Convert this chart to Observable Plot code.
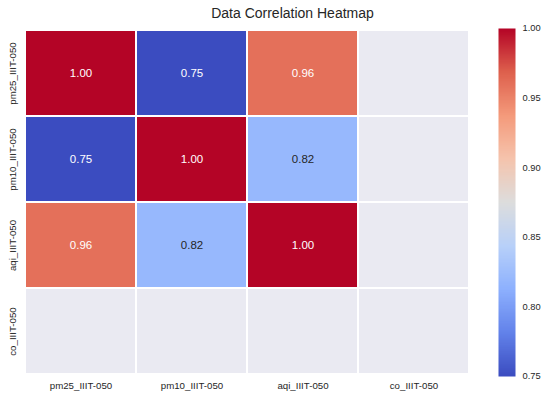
<!DOCTYPE html>
<html><head><meta charset="utf-8">
<script src="https://cdn.jsdelivr.net/npm/d3@7"></script>
<script src="https://cdn.jsdelivr.net/npm/@observablehq/plot@0.6"></script>
<style>
body{margin:0;background:#fff;}
#wrap{position:relative;width:548px;height:399px;font-family:"Liberation Sans",Arial,sans-serif;overflow:hidden;}
#wrap svg{position:absolute;left:0;top:0;}
#title{position:absolute;left:292.5px;top:6px;transform:translateX(-50%);white-space:nowrap;font-size:14px;line-height:14px;color:#262626;z-index:2;}
</style></head><body>
<div id="wrap"><div id="title">Data Correlation Heatmap</div></div>
<script>
const variables = ["pm25_IIIT-050", "pm10_IIIT-050", "aqi_IIIT-050", "co_IIIT-050"];
const correlations = [
  [1.00, 0.75, 0.96, null],
  [0.75, 1.00, 0.82, null],
  [0.96, 0.82, 1.00, null],
  [null, null, null, null]
];
const colorDomain = [0.75, 1.00];
const colorbarTicks = [0.75, 0.80, 0.85, 0.90, 0.95, 1.00];
const coolwarmStops = ["#3B4CC0", "#6282EA", "#8DB0FE", "#B8D0F9", "#DDDDDD", "#F5C4AD", "#F49A7B", "#DE604D", "#B40426"];

const coolwarm = d3.piecewise(d3.interpolateRgb, coolwarmStops);
const colorScale = {type: "linear", domain: colorDomain, interpolate: coolwarm, clamp: true};

const cells = [];
variables.forEach((r, i) => variables.forEach((c, j) => cells.push({row: r, col: c, value: correlations[i][j]})));
const valued = cells.filter(d => d.value != null);
function lum(v) {
  const c = d3.rgb(coolwarm(Math.max(0, Math.min(1, (v - colorDomain[0]) / (colorDomain[1] - colorDomain[0])))));
  const f = x => { x /= 255; return x <= 0.03928 ? x / 12.92 : Math.pow((x + 0.055) / 1.055, 2.4); };
  return 0.2126 * f(c.r) + 0.7152 * f(c.g) + 0.0722 * f(c.b);
}
const lightText = valued.filter(d => lum(d.value) <= 0.408);
const darkText = valued.filter(d => lum(d.value) > 0.408);

const font = '"Liberation Sans", Arial, sans-serif';

const heat = Plot.plot({
  width: 548, height: 399,
  marginLeft: 24, marginRight: 78, marginTop: 29, marginBottom: 24,
  x: {domain: variables, padding: 0, axis: null, label: null},
  y: {domain: variables, padding: 0, axis: null, label: null},
  color: colorScale,
  style: {fontFamily: font, background: "transparent", color: "#262626"},
  marks: [
    Plot.cell(cells, {x: "col", y: "row", fill: "#EAEAF2", stroke: "white", strokeWidth: 2}),
    Plot.cell(valued, {x: "col", y: "row", fill: "value", stroke: "white", strokeWidth: 2}),
    Plot.text(lightText, {x: "col", y: "row", text: d => d.value.toFixed(2), fill: "white", fontSize: 11.5}),
    Plot.text(darkText, {x: "col", y: "row", text: d => d.value.toFixed(2), fill: "#262626", fontSize: 11.5}),
    Plot.axisX({tickSize: 0, tickPadding: 7, fontSize: 9.7, fill: "#262626", label: null}),
    Plot.text(variables, {y: d => d, frameAnchor: "left", textAnchor: "middle", lineAnchor: "middle", dx: -12, rotate: -90, fontSize: 9.7, fill: "#262626"})
  ]
});

const bar = Plot.plot({
  width: 548, height: 399,
  marginLeft: 498, marginRight: 33, marginTop: 28, marginBottom: 23,
  x: {domain: [0, 1], axis: null},
  y: {domain: colorDomain, axis: null},
  color: colorScale,
  style: {fontFamily: font, background: "transparent", color: "#262626"},
  marks: [
    Plot.raster({fill: (x, y) => y, x1: 0, x2: 1, y1: colorDomain[0], y2: colorDomain[1], width: 1, height: 256}),
    Plot.axisY(colorbarTicks, {anchor: "right", tickSize: 0, tickPadding: 7, tickFormat: d => d.toFixed(2), fontSize: 9.3, fill: "#262626", label: null})
  ]
});

const wrap = document.getElementById("wrap");
wrap.appendChild(heat);
wrap.appendChild(bar);
</script>
</body></html>
